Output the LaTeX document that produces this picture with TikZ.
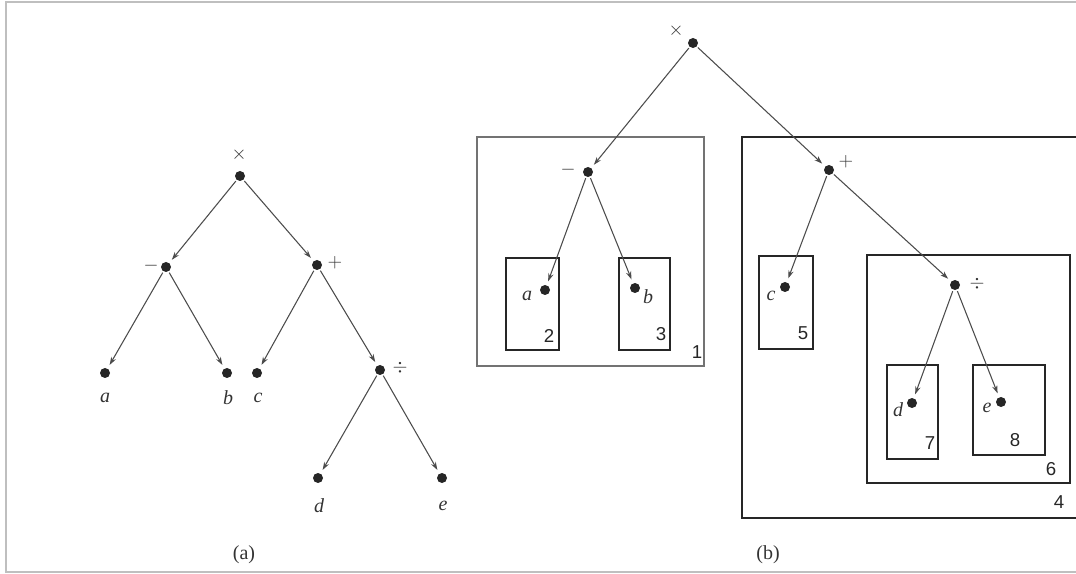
\documentclass[tikz,border=0pt]{standalone}
\usepackage{fontspec}
\setmainfont{Liberation Serif}
\newfontfamily\numfont{Liberation Sans}
\usetikzlibrary{arrows.meta}
\begin{document}
\begin{tikzpicture}[x=0.75pt,y=-0.75pt,
  dot/.style={circle,fill=black!85,inner sep=0pt,minimum size=7.5pt},
  edge/.style={draw=black!70,line width=0.8pt,-{Stealth[length=6pt,width=4pt]},shorten >=3pt,shorten <=1pt},
  lbl/.style={font=\fontsize{15}{15}\selectfont\itshape,text=black!80,inner sep=0pt},
  op/.style={font=\fontsize{15}{15}\selectfont,text=black!80,inner sep=0pt},
  num/.style={font=\numfont\fontsize{14}{14}\selectfont,text=black!85,inner sep=0pt},
  capt/.style={font=\fontsize{15}{15}\selectfont,text=black!80,inner sep=0pt},
  thinbox/.style={draw=black!55,line width=0.8pt},
  leafbox/.style={draw=black!85,line width=1pt},
  bigbox/.style={draw=black!85,line width=1.7pt},
  midbox/.style={draw=black!85,line width=1.3pt}]
\useasboundingbox (0,0) rectangle (1076,574);
\draw[black!25,line width=0.8pt] (1076,2) -- (6,2) -- (6,572) -- (1076,572);

% ---------- tree (a) ----------
\node[dot] (aX) at (240,176) {};
\node[dot] (aM) at (166,267) {};
\node[dot] (aP) at (317,265) {};
\node[dot] (aA) at (105,373) {};
\node[dot] (aB) at (227,373) {};
\node[dot] (aC) at (257,373) {};
\node[dot] (aD) at (380,370) {};
\node[dot] (aDd) at (318,478) {};
\node[dot] (aE) at (442,478) {};
\node[op] (aXl) at (239,155) {$\times$};
\node[op] (aMl) at (151,266) {$-$};
\node[op] (aPl) at (335,263) {$+$};
\node[op] (aDl) at (400,368) {$\div$};
\node[lbl] (aAl) at (105,398) {a};
\node[lbl] (aBl) at (228,398) {b};
\node[lbl] (aCl) at (258,398) {c};
\node[lbl] (aDdl) at (319,506) {d};
\node[lbl] (aEl) at (443,506) {e};
\draw[edge] (aX) -- (aM);
\draw[edge] (aX) -- (aP);
\draw[edge] (aM) -- (aA);
\draw[edge] (aM) -- (aB);
\draw[edge] (aP) -- (aC);
\draw[edge] (aP) -- (aD);
\draw[edge] (aD) -- (aDd);
\draw[edge] (aD) -- (aE);
\node[capt] (capa) at (244,555) {(a)};

% ---------- tree (b) boxes ----------
\draw[thinbox] (477,137) rectangle (704,366);
\draw[leafbox] (506,258) rectangle (559,350);
\draw[leafbox] (619,258) rectangle (670,350);
\draw[bigbox] (1076,137) -- (742,137) -- (742,518) -- (1076,518);
\draw[leafbox] (759,256) rectangle (813,349);
\draw[midbox] (867,255) rectangle (1070,483);
\draw[leafbox] (887,365) rectangle (938,459);
\draw[leafbox] (973,365) rectangle (1045,455);

% ---------- tree (b) ----------
\node[dot] (bX) at (693,43) {};
\node[dot] (bM) at (588,172) {};
\node[dot] (bP) at (829,170) {};
\node[dot] (bA) at (545,290) {};
\node[dot] (bB) at (635,288) {};
\node[dot] (bC) at (785,287) {};
\node[dot] (bD) at (955,285) {};
\node[dot] (bDd) at (912,403) {};
\node[dot] (bE) at (1001,402) {};
\node[op] (bXl) at (676,31) {$\times$};
\node[op] (bMl) at (568,170) {$-$};
\node[op] (bPl) at (846,162) {$+$};
\node[op] (bDl) at (977,284) {$\div$};
\node[lbl] (bAl) at (527,296) {a};
\node[lbl] (bBl) at (648,297) {b};
\node[lbl] (bCl) at (771,296) {c};
\node[lbl] (bDdl) at (898,410) {d};
\node[lbl] (bEl) at (987,408) {e};
\draw[edge] (bX) -- (bM);
\draw[edge] (bX) -- (bP);
\draw[edge] (bM) -- (bA);
\draw[edge] (bM) -- (bB);
\draw[edge] (bP) -- (bC);
\draw[edge] (bP) -- (bD);
\draw[edge] (bD) -- (bDd);
\draw[edge] (bD) -- (bE);

\node[num] (n1) at (697,352) {1};
\node[num] (n2) at (549,336) {2};
\node[num] (n3) at (661,334) {3};
\node[num] (n4) at (1059,502) {4};
\node[num] (n5) at (803,333) {5};
\node[num] (n6) at (1051,469) {6};
\node[num] (n7) at (930,443) {7};
\node[num] (n8) at (1015,440) {8};
\node[capt] (capb) at (768,555) {(b)};
\end{tikzpicture}
\end{document}
